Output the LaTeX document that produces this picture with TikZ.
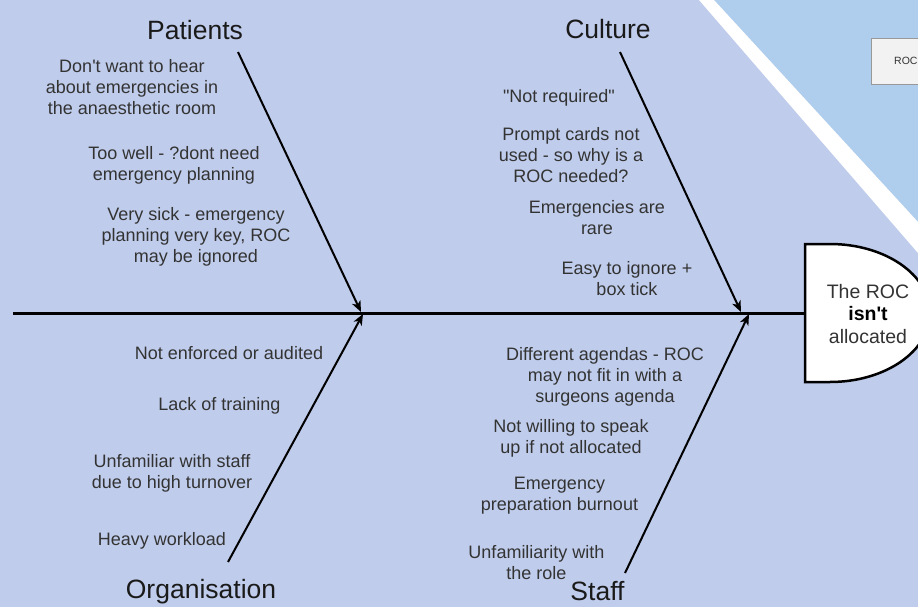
\documentclass[tikz,border=0pt]{standalone}
\usepackage{fontspec}
\setmainfont{Liberation Sans}
\usetikzlibrary{arrows.meta}
\definecolor{bglav}{HTML}{BFCCEB}
\definecolor{bgblue}{HTML}{AFCDEC}
\definecolor{txt}{HTML}{333333}
\definecolor{ttl}{HTML}{1A1A1A}
\definecolor{boxfill}{HTML}{F2F2F2}
\definecolor{boxline}{HTML}{999999}
\newcommand{\apos}{\textquotesingle}
\newcommand{\dq}{\textquotedbl}
\begin{document}
\begin{tikzpicture}[x=1pt,y=-1pt,
  cause/.style={font=\fontsize{18}{21}\selectfont, text=txt, align=center, inner sep=0pt},
  category/.style={font=\fontsize{26.5}{30}\selectfont, text=ttl, inner sep=0pt},
  bone/.style={line width=2pt, -{Stealth[length=11pt,width=9pt,inset=3pt]}},
  spine/.style={line width=3pt},
  headtxt/.style={font=\fontsize{19.5}{22.5}\selectfont, text=txt, align=center, inner sep=0pt}]
% canvas and background panels
\clip (0,0) rectangle (918,607);
\useasboundingbox (0,0) rectangle (918,607);
\fill[bglav] (0,0) rectangle (918,607);
\fill[bgblue] (714,0) -- (918,222) -- (918,0) -- cycle;
\fill[white] (699,0) -- (918,253) -- (918,222) -- (714,0) -- cycle;

% small box in the neighbouring panel
\node (rocbox) [draw=boxline, fill=boxfill, line width=1.2pt, anchor=north west,
  minimum width=80pt, minimum height=46pt, inner sep=0pt] at (871,38) {};
\node (roclabel) [anchor=base west, font=\fontsize{10.5}{12}\selectfont, text=txt, inner sep=0pt] at (894,65) {ROC};

% fish head (problem statement)
\draw[line width=2.5pt, fill=white] (805,244) -- (830,244)
  arc[start angle=-90, end angle=90, x radius=100, y radius=69] -- (805,382) -- cycle;
\node[headtxt] (problem) at (868,314) {The ROC\\\textcolor{black}{\textbf{isn\apos t}}\\allocated};

% spine
\coordinate (tail) at (13,313);
\coordinate (headleft) at (805,313);
\draw[spine] (tail) -- (headleft);

% bones
\coordinate (pstart) at (238,52);
\coordinate (pjoin) at (361,312);
\coordinate (cstart) at (620,52);
\coordinate (cjoin) at (741,312);
\coordinate (ostart) at (228,562);
\coordinate (ojoin) at (363,314);
\coordinate (sstart) at (625,573);
\coordinate (sjoin) at (749,314);
\draw[bone] (pstart) -- (pjoin);
\draw[bone] (cstart) -- (cjoin);
\draw[bone] (ostart) -- (ojoin);
\draw[bone] (sstart) -- (sjoin);

% category titles
\node[category] (patients) at (195,30) {Patients};
\node[category] (culture) at (608,29) {Culture};
\node[category] (organisation) at (201,591.5) {Organisation};
\node[category] (staff) at (597.5,591.5) {Staff};

% Patients causes
\node[cause] (p1) at (132,87) {Don\apos t want to hear\\about emergencies in\\the anaesthetic room};
\node[cause] (p2) at (174,165.5) {Too well - ?dont need\\emergency planning};
\node[cause] (p3) at (196,237) {Very sick - emergency\\planning very key, ROC\\may be ignored};

% Culture causes
\node[cause] (c1) at (559,98) {\dq Not required\dq};
\node[cause] (c2) at (571,155) {Prompt cards not\\used - so why is a\\ROC needed?};
\node[cause] (c3) at (597,217.5) {Emergencies are\\rare};
\node[cause] (c4) at (627,279) {Easy to ignore +\\box tick};

% Organisation causes
\node[cause] (o1) at (229,353) {Not enforced or audited};
\node[cause] (o2) at (219.5,406) {Lack of training};
\node[cause] (o3) at (172,473) {Unfamiliar with staff\\due to high turnover};
\node[cause] (o4) at (162,541) {Heavy workload};

% Staff causes
\node[cause] (s1) at (605,377) {Different agendas - ROC\\may not fit in with a\\surgeons agenda};
\node[cause] (s2) at (571,438.5) {Not willing to speak\\up if not allocated};
\node[cause] (s3) at (559.5,495.5) {Emergency\\preparation burnout};
\node[cause] (s4) at (536.5,562.5) {Unfamiliarity with\\the role};
\end{tikzpicture}
\end{document}
